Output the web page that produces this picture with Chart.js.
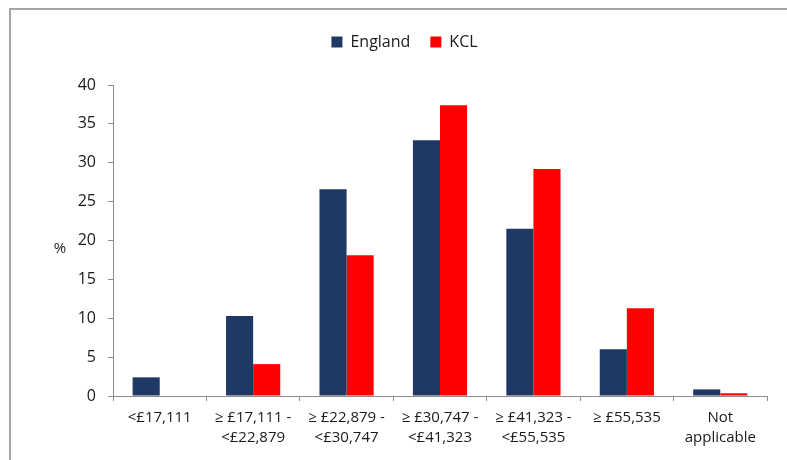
<!DOCTYPE html>
<html>
<head>
<meta charset="utf-8">
<script src="https://cdn.jsdelivr.net/npm/chart.js@4.4.1/dist/chart.umd.min.js"></script>
<style>
  html, body { margin: 0; padding: 0; background: #fff; }
  #wrap { width: 787px; height: 460px; position: relative; }
</style>
</head>
<body>
<div id="wrap"><canvas id="c"></canvas></div>
<script>
// Income bands (multi-line labels)
const categories = [
  ['<£17,111'],
  ['≥ £17,111 -', '<£22,879'],
  ['≥ £22,879 -', '<£30,747'],
  ['≥ £30,747 -', '<£41,323'],
  ['≥ £41,323 -', '<£55,535'],
  ['≥ £55,535'],
  ['Not', 'applicable']
];
const englandValues = [2.4, 10.3, 26.6, 32.9, 21.5, 6.0, 0.85];
const kclValues = [0, 4.1, 18.1, 37.4, 29.2, 11.3, 0.35];
const yTicks = [0, 5, 10, 15, 20, 25, 30, 35, 40];

const FONT = "'Open Sans', 'DejaVu Sans', sans-serif";
const TEXT = '#1a1a1a';
const AXIS = '#8c8c8c';

// Grey frame along the top and left edges of the canvas
const framePlugin = {
  id: 'frame',
  beforeDraw(chart) {
    const ctx = chart.ctx;
    ctx.save();
    ctx.strokeStyle = '#a6a6a6';
    ctx.lineWidth = 2;
    ctx.beginPath();
    ctx.moveTo(10, 460);
    ctx.lineTo(10, 9);
    ctx.lineTo(787, 9);
    ctx.stroke();
    ctx.restore();
  }
};

// Unrotated "%" unit label beside the value axis
const unitPlugin = {
  id: 'unitLabel',
  afterDraw(chart) {
    const y = chart.scales.y;
    const ctx = chart.ctx;
    ctx.save();
    ctx.fillStyle = TEXT;
    ctx.font = '15px ' + FONT;
    ctx.textAlign = 'center';
    ctx.textBaseline = 'middle';
    ctx.fillText('%', chart.chartArea.left - 53, y.getPixelForValue(20) + 8);
    ctx.restore();
  }
};

// Extra room under the legend
const legendGap = {
  id: 'legendGap',
  beforeInit(chart) {
    const fit = chart.legend.fit;
    chart.legend.fit = function () {
      fit.call(this);
      this.height += 25;
    };
  }
};

new Chart(document.getElementById('c'), {
  type: 'bar',
  data: {
    labels: categories,
    datasets: [
      { label: 'England', data: englandValues, backgroundColor: '#1f3864' },
      { label: 'KCL', data: kclValues, backgroundColor: '#ff0000' }
    ]
  },
  options: {
    responsive: true,
    maintainAspectRatio: false,
    animation: false,
    layout: { padding: { top: 14, right: 20, left: 42, bottom: 0 } },
    datasets: { bar: { categoryPercentage: 0.58, barPercentage: 1.0 } },
    plugins: {
      legend: {
        position: 'top',
        labels: {
          boxWidth: 11, boxHeight: 11, padding: 20,
          color: TEXT,
          font: { family: FONT, size: 16 }
        }
      },
      tooltip: { enabled: false }
    },
    scales: {
      x: {
        offset: true,
        grid: { display: true, drawOnChartArea: false, tickLength: 5, color: AXIS, offset: true },
        border: { color: AXIS, width: 1 },
        ticks: {
          color: TEXT, padding: 7, maxRotation: 0, autoSkip: false,
          font: { family: FONT, size: 15, lineHeight: 1.33 }
        },
        afterFit(s) { s.height = 64; }
      },
      y: {
        min: 0, max: 40,
        afterBuildTicks(s) { s.ticks = yTicks.map(v => ({ value: v })); },
        grid: { display: true, drawOnChartArea: false, tickLength: 5, color: AXIS },
        border: { color: AXIS, width: 1 },
        ticks: { color: TEXT, padding: 12, font: { family: FONT, size: 16 } },
        afterFit(s) { s.width = 71; }
      }
    }
  },
  plugins: [framePlugin, unitPlugin, legendGap]
});
</script>
</body>
</html>
